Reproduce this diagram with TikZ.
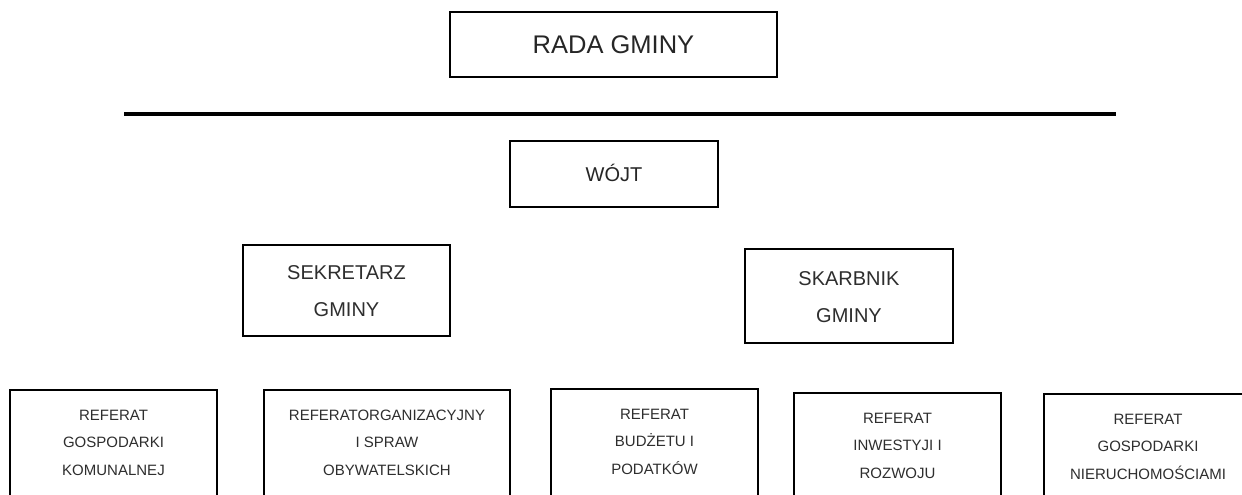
\documentclass[tikz,border=0pt]{standalone}
\usepackage{fontspec}
\setmainfont{Liberation Sans}
\begin{document}
\begin{tikzpicture}[x=1pt,y=-1pt,
  box/.style={draw=black, line width=2pt, rectangle, inner sep=0pt, anchor=north west},
  toptxt/.style={inner sep=0pt, anchor=north, align=center, text=black!82},
  bigtxt/.style={inner sep=0pt, anchor=center, text=black!85, font=\fontsize{25.5}{30}\selectfont, text height=18.2pt, text depth=0pt},
  midtxt/.style={toptxt, font=\fontsize{20}{37}\selectfont},
  smalltxt/.style={toptxt, font=\fontsize{15}{27.5}\selectfont},
  rule/.style={line width=4pt, draw=black}]
\clip (0,0) rectangle (1242,495);
\fill[white] (0,0) rectangle (1242,495);

% top level
\node[box, minimum width=327pt, minimum height=65pt] (rada) at (449,11) {};
\node[bigtxt] (radat) at (rada.center) {RADA GMINY};

\coordinate (ruleL) at (124,113.5);
\coordinate (ruleR) at (1116,113.5);
\draw[rule] (ruleL) -- (ruleR);

\node[box, minimum width=208pt, minimum height=66pt] (wojt) at (509,140) {};
\node[inner sep=0pt, anchor=center, text=black!85, font=\fontsize{20}{24}\selectfont, text height=14.3pt, text depth=0pt] (wojtt) at ([yshift=0pt]wojt.center) {WÓJT};

% middle level
\node[box, minimum width=207pt, minimum height=91pt] (sek) at (242,244) {};
\node[midtxt] (sekt) at ([yshift=-21pt]sek.north) {SEKRETARZ\\GMINY};

\node[box, minimum width=208pt, minimum height=94pt] (skarb) at (744,248) {};
\node[midtxt] (skarbt) at ([yshift=-23pt]skarb.north) {SKARBNIK\\GMINY};

% bottom level
\node[box, minimum width=207pt, minimum height=140pt] (r1) at (9,389) {};
\node[smalltxt] (r1t) at ([yshift=-20.5pt]r1.north) {REFERAT\\GOSPODARKI\\KOMUNALNEJ};

\node[box, minimum width=246pt, minimum height=140pt] (r2) at (263,389) {};
\node[smalltxt] (r2t) at ([yshift=-20.5pt]r2.north) {REFERATORGANIZACYJNY\\I SPRAW\\OBYWATELSKICH};

\node[box, minimum width=207pt, minimum height=140pt] (r3) at (550,388) {};
\node[smalltxt] (r3t) at ([yshift=-20.5pt]r3.north) {REFERAT\\BUDŻETU I\\PODATKÓW};

\node[box, minimum width=207pt, minimum height=140pt] (r4) at (793,392) {};
\node[smalltxt] (r4t) at ([yshift=-20.5pt]r4.north) {REFERAT\\INWESTYJI I\\ROZWOJU};

\node[box, minimum width=208pt, minimum height=140pt] (r5) at (1043,393) {};
\node[smalltxt] (r5t) at ([yshift=-20.5pt]r5.north) {REFERAT\\GOSPODARKI\\NIERUCHOMOŚCIAMI};
\end{tikzpicture}
\end{document}
